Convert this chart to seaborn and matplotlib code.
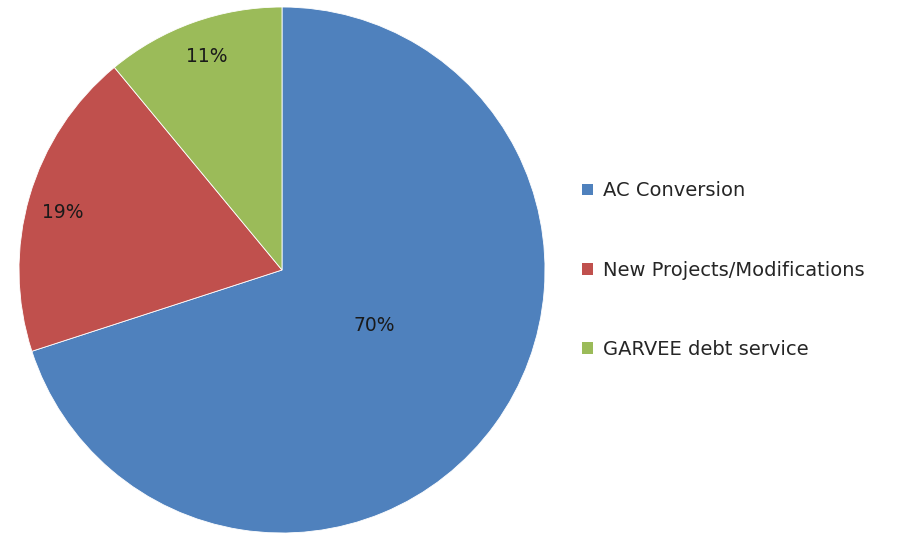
import matplotlib
matplotlib.use("Agg")
import matplotlib.pyplot as plt
import seaborn as sns
import numpy as np
from matplotlib.patches import Patch

# data
categories = ["AC Conversion", "New Projects/Modifications", "GARVEE debt service"]
shares = [70, 19, 11]
colors = ["#4F81BD", "#C0504D", "#9BBB59"]
label_radius = [0.41, 0.86, 0.86]
label_shift = [5, 1.5, -0.5]  # degrees, best-fit nudge

sns.set_style("white")
plt.rcParams['font.family'] = ['DejaVu Sans']

fig = plt.figure(figsize=(9.08, 5.34), dpi=100)
ax = fig.add_axes([19 / 908, 1 / 534, 526 / 908, 526 / 534])

wedges, _ = ax.pie(shares, colors=colors, startangle=90, counterclock=False,
                   wedgeprops=dict(edgecolor="white", linewidth=0.6))

# percentage labels
for w, v, r, s in zip(wedges, shares, label_radius, label_shift):
    ang = np.deg2rad((w.theta1 + w.theta2) / 2 + s)
    ax.text(r * np.cos(ang), r * np.sin(ang), f"{v}%", ha="center", va="center",
            fontsize=13.5, color="#1a1a1a")

ax.set_xlim(-1, 1)
ax.set_ylim(-1, 1)
ax.set_aspect("equal")
ax.axis("off")

handles = [Patch(facecolor=c, edgecolor="none") for c in colors]
fig.legend(handles, categories, loc="center left", bbox_to_anchor=(0.6306, 0.494),
           frameon=False, fontsize=14, labelspacing=3.1, handlelength=0.53,
           handleheight=0.53, handletextpad=0.55, borderpad=0)

fig.savefig("out.png", dpi=100)
